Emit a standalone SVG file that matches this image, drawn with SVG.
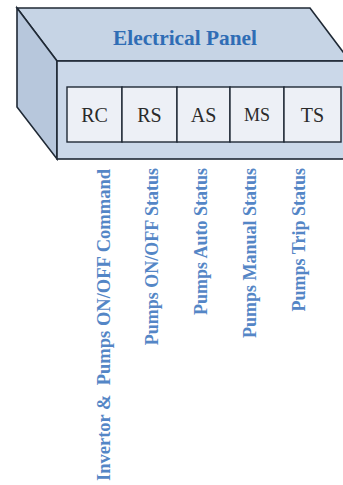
<svg xmlns="http://www.w3.org/2000/svg" width="343" height="485" viewBox="0 0 343 485">
  <style>
    .edge { stroke: #1f2935; stroke-width: 1.6; stroke-linejoin: miter; }
    .top { fill: #c6d4e5; }
    .side { fill: #b7c7dc; }
    .front { fill: #cbd8e9; }
    .cell { fill: #edf0f6; stroke: #1f2935; stroke-width: 1.4; }
    .cell-label { font-family: "Liberation Serif", "Times New Roman", serif; font-size: 20px; fill: #2a2a2a; text-anchor: middle; }
    .title { font-family: "Liberation Serif", "Times New Roman", serif; font-size: 21px; font-weight: bold; fill: #2f6db5; text-anchor: middle; }
    .signal { font-family: "Liberation Serif", "Times New Roman", serif; font-size: 18px; font-weight: bold; fill: #5486c6; text-anchor: end; }
  </style>
  <rect width="343" height="485" fill="#ffffff"/>

  <!-- Panel enclosure drawn as a box in perspective -->
  <g id="panel">
    <polygon class="top edge" points="17,8 310,8 345,54.5 345,61 57,61"/>
    <polygon class="side edge" points="17,8 57,61 57,159 17,107"/>
    <rect class="front edge" x="57" y="61" width="290" height="98"/>
    <text class="title" x="185" y="45" textLength="144" lengthAdjust="spacingAndGlyphs">Electrical Panel</text>
  </g>

  <!-- Terminal blocks -->
  <g id="rc">
    <rect class="cell" x="67" y="87" width="55" height="55"/>
    <text class="cell-label" x="94.5" y="122">RC</text>
  </g>
  <g id="rs">
    <rect class="cell" x="122" y="87" width="55" height="55"/>
    <text class="cell-label" x="149.5" y="122">RS</text>
  </g>
  <g id="as">
    <rect class="cell" x="177" y="87" width="53" height="55"/>
    <text class="cell-label" x="203.5" y="122">AS</text>
  </g>
  <g id="ms">
    <rect class="cell" x="230" y="87" width="54" height="55"/>
    <text class="cell-label" x="257" y="121" style="font-size:18px">MS</text>
  </g>
  <g id="ts">
    <rect class="cell" x="284" y="87" width="57" height="55"/>
    <text class="cell-label" x="312.5" y="122">TS</text>
  </g>

  <!-- Signal names under each block -->
  <g id="signals">
    <text class="signal" transform="translate(110,169) rotate(-90)" textLength="312" lengthAdjust="spacingAndGlyphs" xml:space="preserve">Invertor &amp;  Pumps ON/OFF Command</text>
    <text class="signal" transform="translate(158,168) rotate(-90)">Pumps ON/OFF Status</text>
    <text class="signal" transform="translate(207,168) rotate(-90)">Pumps Auto Status</text>
    <text class="signal" transform="translate(256,168) rotate(-90)">Pumps Manual Status</text>
    <text class="signal" transform="translate(305,168) rotate(-90)">Pumps Trip Status</text>
  </g>
</svg>
